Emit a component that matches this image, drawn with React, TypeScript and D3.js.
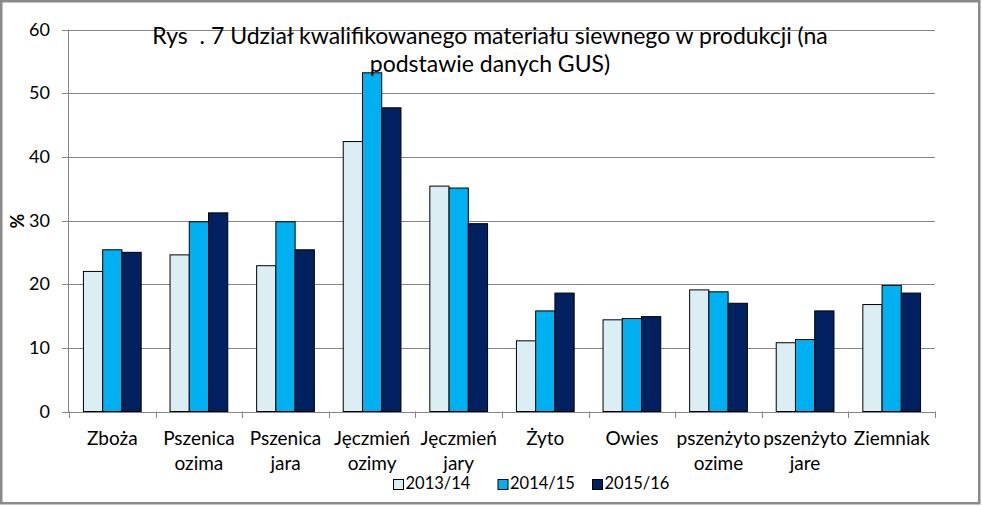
import React from "react";
import * as d3 from "d3";

const categories = [
  ["Zboża"],
  ["Pszenica", "ozima"],
  ["Pszenica", "jara"],
  ["Jęczmień", "ozimy"],
  ["Jęczmień", "jary"],
  ["Żyto"],
  ["Owies"],
  ["pszenżyto", "ozime"],
  ["pszenżyto", "jare"],
  ["Ziemniak"],
];
const seriesNames = ["2013/14", "2014/15", "2015/16"];
const s2013 = [22.0, 24.6, 22.9, 42.4, 35.4, 11.1, 14.4, 19.1, 10.8, 16.8];
const s2014 = [25.4, 29.8, 29.8, 53.2, 35.1, 15.8, 14.6, 18.8, 11.3, 19.8];
const s2015 = [25.0, 31.2, 25.4, 47.7, 29.5, 18.6, 14.9, 17.0, 15.8, 18.6];
const yTicks = [0, 10, 20, 30, 40, 50, 60];
const colors = ["#DAEEF3", "#00B0F0", "#002060"];
const titleLines = [
  "Rys  . 7 Udział kwalifikowanego materiału siewnego w produkcji (na",
  "podstawie danych GUS)",
];

export default function App() {
  const W = 982, H = 506;
  const left = 69, right = 935, top = 29.5, bottom = 411.5;
  const font = "Lato, 'Open Sans', sans-serif";
  const series = [s2013, s2014, s2015];
  const x = d3.scaleBand<number>().domain(d3.range(categories.length)).range([left, right]).paddingInner(0).paddingOuter(0);
  const y = d3.scaleLinear().domain([0, 60]).range([bottom, top]);
  const bw = x.bandwidth();
  const barW = bw / 4.5;
  const off = barW * 0.75;
  const legendX = [393, 497.5, 592];
  return (
    <svg width={W} height={H} style={{ position: "absolute", left: 0, top: 0, background: "#fff" }} fontFamily={font}>
      <rect x={1.25} y={1.25} width={W - 2.5 - 1.5} height={H - 2.5 - 1.5} fill="#fff" stroke="#8a8a8a" strokeWidth={2.5} />
      {yTicks.map((t) => (
        <g key={t}>
          <line x1={62} x2={right} y1={Math.round(y(t)) + 0.5} y2={Math.round(y(t)) + 0.5} stroke="#868686" strokeWidth={1} />
          <text x={50} y={y(t) + 6} textAnchor="end" fontSize={18} fill="#000">{t}</text>
        </g>
      ))}
      <line x1={68.5} x2={68.5} y1={top} y2={bottom + 0.5} stroke="#868686" />
      {d3.range(categories.length + 1).map((i) => {
        const xx = Math.round(left + i * bw) + 0.5;
        return <line key={i} x1={xx} x2={xx} y1={bottom} y2={418} stroke="#868686" />;
      })}
      {series.map((s, si) =>
        s.map((v, ci) => (
          <rect
            key={si + "-" + ci}
            x={(x(ci) as number) + off + si * barW}
            y={y(v)}
            width={barW}
            height={y(0) - y(v)}
            fill={colors[si]}
            stroke="#000"
            strokeWidth={1}
          />
        ))
      )}
      {categories.map((lines, ci) => (
        <text key={ci} x={(x(ci) as number) + bw / 2} textAnchor="middle" fontSize={19} fill="#000">
          {lines.map((l, li) => (
            <tspan key={li} x={(x(ci) as number) + bw / 2} y={445 + li * 24.5}>{l}</tspan>
          ))}
        </text>
      ))}
      <text transform="translate(24,221) rotate(-90)" textAnchor="middle" fontSize={18} fontWeight="bold" fill="#000">%</text>
      {titleLines.map((l, i) => (
        <text key={i} x={490} y={44 + i * 28} textAnchor="middle" fontSize={23} fill="#000" style={{ whiteSpace: "pre" }}>{l}</text>
      ))}
      {seriesNames.map((n, i) => (
        <g key={n}>
          <rect x={legendX[i] + 0.5} y={479.5} width={10} height={10} fill={colors[i]} stroke="#000" strokeWidth={1} />
          <text x={legendX[i] + 12.5} y={489} fontSize={16.5} fill="#000">{n}</text>
        </g>
      ))}
    </svg>
  );
}
